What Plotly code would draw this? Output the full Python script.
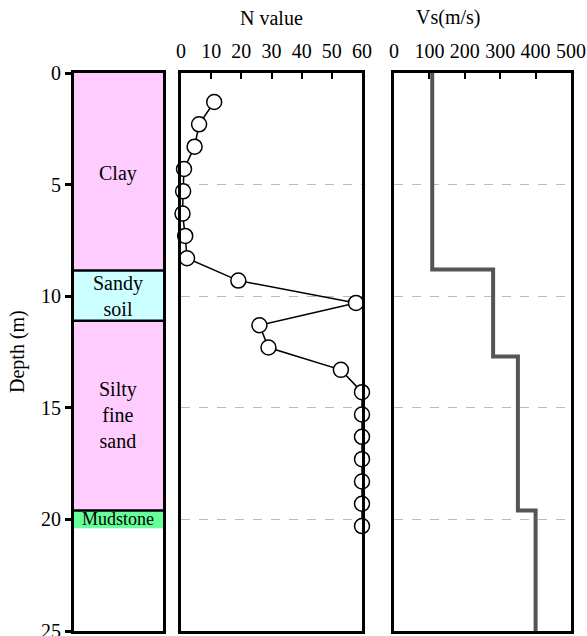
import plotly.graph_objects as go

# ---- data ----
n_depth = [1.3, 2.3, 3.3, 4.3, 5.3, 6.3, 7.3, 8.3, 9.3, 10.3, 11.3, 12.3, 13.3,
           14.3, 15.3, 16.3, 17.3, 18.3, 19.3, 20.3]
n_value = [11, 6, 4.5, 1, 0.7, 0.5, 1.4, 2, 19, 58, 26, 29, 53,
           60, 60, 60, 60, 60, 60, 60]

vs_top = [0, 8.8, 12.7, 19.6]
vs_value = [108, 280, 350, 400]

layer_names = ["Clay", "Sandy<br>soil", "Silty<br>fine<br>sand", "Mudstone"]
layer_top = [0, 8.85, 11.1, 19.6]
layer_bottom = [8.85, 11.1, 19.6, 20.4]
layer_colors = ["#FFCCFF", "#CCFFFF", "#FFCCFF", "#66FF99"]
layer_label_depth = [4.5, 10.0, 15.3, 20.0]
layer_label_size = [20, 20, 20, 18]

depth_ticks = [0, 5, 10, 15, 20, 25]
n_ticks = [0, 10, 20, 30, 40, 50, 60]
vs_ticks = [0, 100, 200, 300, 400, 500]

depth_max = 25
FONT = "Liberation Serif, Times New Roman, serif"
FS = 20

fig = go.Figure()

# N value
fig.add_trace(go.Scatter(
    x=n_value, y=n_depth, mode="lines+markers",
    line=dict(color="black", width=1.5),
    marker=dict(symbol="circle", size=15, color="white",
                line=dict(color="black", width=1.5)),
    xaxis="x2", yaxis="y2", cliponaxis=False, showlegend=False))

# Vs step
fig.add_trace(go.Scatter(
    x=vs_value + [vs_value[-1]], y=vs_top + [depth_max],
    mode="lines", line=dict(color="#555555", width=4, shape="vh"),
    xaxis="x3", yaxis="y3", cliponaxis=False, showlegend=False))

# invisible trace to anchor left panel
fig.add_trace(go.Scatter(x=[0.5], y=[0], mode="markers", marker=dict(opacity=0),
                         xaxis="x", yaxis="y", showlegend=False, hoverinfo="skip"))

xd1 = [74 / 587, 163 / 587]
xd2 = [181 / 587, 362 / 587]
xd3 = [394 / 587, 571 / 587]
ydom = [1 - 631 / 636, 1 - 73 / 636]

shapes = []
annotations = []
for name, t, b, c, d, s in zip(layer_names, layer_top, layer_bottom, layer_colors,
                               layer_label_depth, layer_label_size):
    shapes.append(dict(type="rect", xref="x", yref="y", x0=0, x1=1, y0=t, y1=b,
                       fillcolor=c, line=dict(width=0), layer="below"))
    annotations.append(dict(x=0.5, y=d, xref="x", yref="y", text=name, showarrow=False,
                            font=dict(family=FONT, size=s, color="black")))
for t in layer_top[1:]:
    shapes.append(dict(type="line", xref="x", yref="y", x0=0, x1=1, y0=t, y1=t,
                       line=dict(color="black", width=2.5)))

annotations.append(dict(x=sum(xd2) / 2, y=1 - 18 / 636, xref="paper", yref="paper",
                        yanchor="middle", text="N value", showarrow=False,
                        font=dict(family=FONT, size=FS, color="black")))
annotations.append(dict(x=sum(xd3) / 2, y=1 - 18 / 636, xref="paper", yref="paper",
                        yanchor="middle", text="Vs(m/s)", showarrow=False,
                        font=dict(family=FONT, size=FS, color="black")))
annotations.append(dict(x=17 / 587, y=(ydom[0] + ydom[1]) / 2, xref="paper", yref="paper",
                        xanchor="center", yanchor="middle",
                        textangle=-90, text="Depth (m)", showarrow=False,
                        font=dict(family=FONT, size=FS, color="black")))

common_y = dict(range=[depth_max, 0], domain=ydom, showline=True, mirror=True,
                linecolor="black", linewidth=3, zeroline=False, automargin=False)

fig.update_layout(
    width=587, height=636, margin=dict(l=0, r=0, t=0, b=0, autoexpand=False),
    paper_bgcolor="white", plot_bgcolor="white",
    font=dict(family=FONT, size=FS, color="black"),
    shapes=shapes, annotations=annotations,
    xaxis=dict(domain=xd1, range=[0, 1], showline=True, mirror=True,
               linecolor="black", linewidth=3, showticklabels=False, ticks="",
               showgrid=False, zeroline=False, anchor="y", automargin=False),
    yaxis=dict(**common_y, anchor="x", tickvals=depth_ticks,
               ticks="outside", ticklen=6, tickwidth=2.5, tickcolor="black",
               showgrid=False, ticklabeloverflow="allow"),
    xaxis2=dict(domain=xd2, range=[0, 60], side="top", anchor="y2",
                tickvals=n_ticks, ticks="inside", ticklen=6,
                tickwidth=2, tickcolor="black", showline=True, mirror=True,
                linecolor="black", linewidth=3, showgrid=False, zeroline=False,
                automargin=False, ticklabelstandoff=4, ticklabeloverflow="allow"),
    yaxis2=dict(**common_y, anchor="x2", tickvals=[5, 10, 15, 20],
                showticklabels=False, ticks="", showgrid=True,
                gridcolor="#BBBBBB", griddash="dash", gridwidth=1),
    xaxis3=dict(domain=xd3, range=[0, 500], side="top", anchor="y3",
                tickvals=vs_ticks, ticks="inside", ticklen=6,
                tickwidth=2, tickcolor="black", showline=True, mirror=True,
                linecolor="black", linewidth=3, showgrid=False, zeroline=False,
                automargin=False, ticklabelstandoff=4, ticklabeloverflow="allow"),
    yaxis3=dict(**common_y, anchor="x3", tickvals=[5, 10, 15, 20],
                showticklabels=False, ticks="", showgrid=True,
                gridcolor="#BBBBBB", griddash="dash", gridwidth=1),
)

fig.write_html("out.html")
